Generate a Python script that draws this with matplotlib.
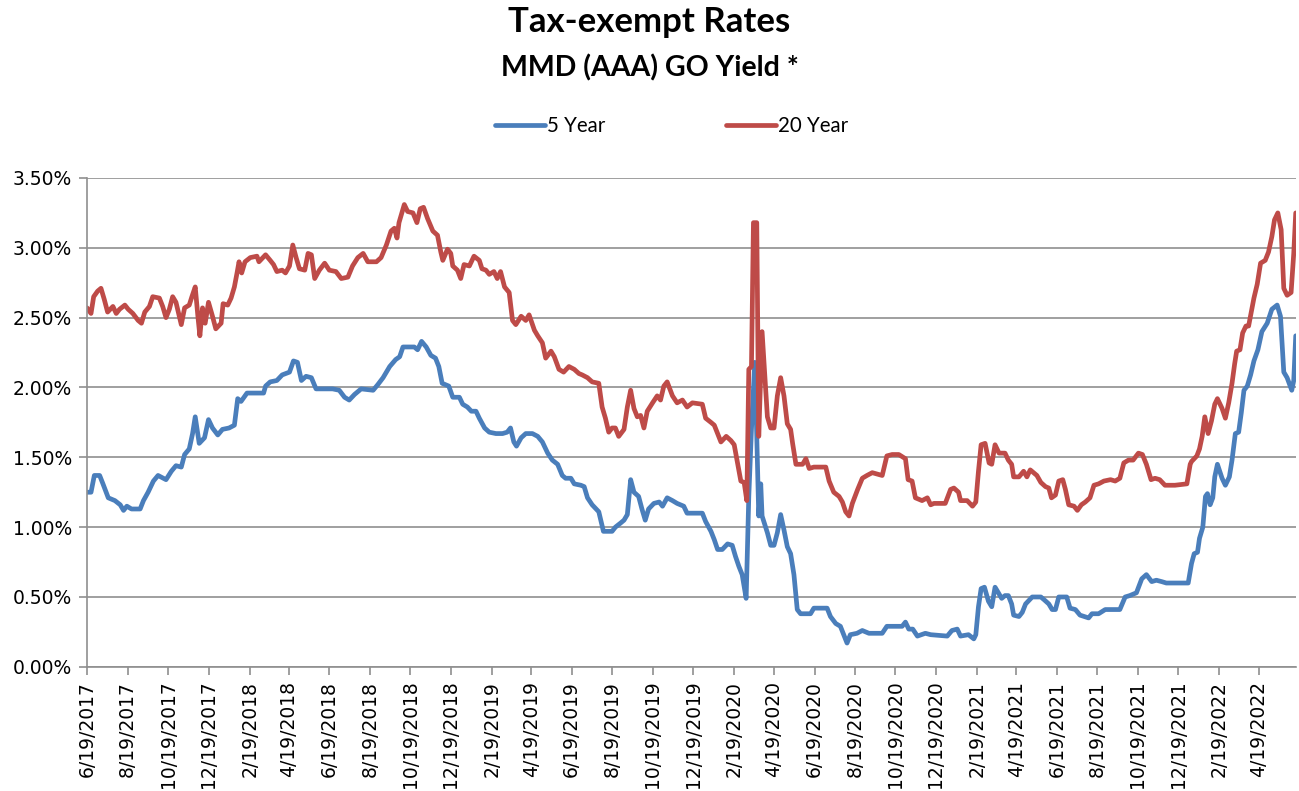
import matplotlib
matplotlib.use("Agg")
import matplotlib.pyplot as plt
import pandas as pd

# 5 year MMD yield (%)
five_dates = [
    "2017-06-19", "2017-06-25", "2017-06-30", "2017-07-08", "2017-07-13", "2017-07-21", "2017-07-31",
    "2017-08-08", "2017-08-13", "2017-08-18", "2017-08-25", "2017-09-07", "2017-09-12", "2017-09-19",
    "2017-09-27", "2017-10-04", "2017-10-16", "2017-10-24", "2017-10-31", "2017-11-08", "2017-11-13",
    "2017-11-20", "2017-11-25", "2017-11-29", "2017-12-05", "2017-12-13", "2017-12-19", "2017-12-25",
    "2018-01-02", "2018-01-09", "2018-01-19", "2018-01-27", "2018-02-01", "2018-02-06", "2018-02-15",
    "2018-03-12", "2018-03-15", "2018-03-22", "2018-04-01", "2018-04-09", "2018-04-20", "2018-04-26",
    "2018-05-02", "2018-05-08", "2018-05-15", "2018-05-23", "2018-05-30", "2018-06-24", "2018-07-04",
    "2018-07-12", "2018-07-19", "2018-07-27", "2018-08-06", "2018-08-24", "2018-08-31", "2018-09-08",
    "2018-09-18", "2018-09-27", "2018-10-03", "2018-10-08", "2018-10-25", "2018-10-30", "2018-11-05",
    "2018-11-12", "2018-11-19", "2018-11-26", "2018-12-01", "2018-12-06", "2018-12-16", "2018-12-22",
    "2019-01-01", "2019-01-06", "2019-01-13", "2019-01-19", "2019-01-26", "2019-01-31", "2019-02-08",
    "2019-02-15", "2019-02-25", "2019-03-07", "2019-03-14", "2019-03-19", "2019-03-24", "2019-03-28",
    "2019-04-04", "2019-04-11", "2019-04-21", "2019-04-29", "2019-05-06", "2019-05-14", "2019-05-21",
    "2019-05-29", "2019-06-05", "2019-06-10", "2019-06-18", "2019-06-23", "2019-07-03", "2019-07-08",
    "2019-07-13", "2019-07-20", "2019-07-30", "2019-08-06", "2019-08-19", "2019-08-24", "2019-09-01",
    "2019-09-06", "2019-09-11", "2019-09-16", "2019-09-21", "2019-09-28", "2019-10-03", "2019-10-08",
    "2019-10-13", "2019-10-21", "2019-10-29", "2019-11-03", "2019-11-10", "2019-11-18", "2019-11-25",
    "2019-12-05", "2019-12-10", "2020-01-02", "2020-01-07", "2020-01-15", "2020-01-20", "2020-01-25",
    "2020-02-01", "2020-02-09", "2020-02-16", "2020-02-21", "2020-02-26", "2020-03-02", "2020-03-08",
    "2020-03-12", "2020-03-16", "2020-03-21", "2020-03-24", "2020-03-27", "2020-03-30", "2020-04-01",
    "2020-04-09", "2020-04-14", "2020-04-19", "2020-04-24", "2020-04-29", "2020-05-04", "2020-05-09",
    "2020-05-14", "2020-05-19", "2020-05-24", "2020-05-29", "2020-06-13", "2020-06-18", "2020-07-08",
    "2020-07-13", "2020-07-21", "2020-07-28", "2020-08-02", "2020-08-07", "2020-08-12", "2020-08-22",
    "2020-08-30", "2020-09-09", "2020-09-29", "2020-10-06", "2020-10-29", "2020-11-03", "2020-11-08",
    "2020-11-14", "2020-11-21", "2020-12-03", "2020-12-11", "2021-01-05", "2021-01-12", "2021-01-20",
    "2021-01-25", "2021-02-06", "2021-02-14", "2021-02-17", "2021-02-21", "2021-02-25", "2021-03-02",
    "2021-03-08", "2021-03-13", "2021-03-18", "2021-03-23", "2021-03-28", "2021-04-02", "2021-04-07",
    "2021-04-12", "2021-04-15", "2021-04-23", "2021-04-28", "2021-05-03", "2021-05-13", "2021-05-26",
    "2021-05-31", "2021-06-07", "2021-06-12", "2021-06-17", "2021-06-22", "2021-07-04", "2021-07-09",
    "2021-07-17", "2021-07-24", "2021-08-06", "2021-08-11", "2021-08-21", "2021-08-31", "2021-09-22",
    "2021-09-30", "2021-10-07", "2021-10-17", "2021-10-25", "2021-11-01", "2021-11-09", "2021-11-16",
    "2021-11-24", "2021-12-01", "2022-01-03", "2022-01-08", "2022-01-12", "2022-01-17", "2022-01-20",
    "2022-01-25", "2022-01-29", "2022-02-01", "2022-02-05", "2022-02-09", "2022-02-12", "2022-02-16",
    "2022-02-23", "2022-02-28", "2022-03-06", "2022-03-10", "2022-03-15", "2022-03-20", "2022-03-24",
    "2022-03-28", "2022-04-02", "2022-04-07", "2022-04-12", "2022-04-18", "2022-04-24", "2022-05-02",
    "2022-05-09", "2022-05-17", "2022-05-22", "2022-05-27", "2022-06-01", "2022-06-08", "2022-06-11",
    "2022-06-14",
]
five_vals = [
    1.25, 1.25, 1.37, 1.37, 1.31, 1.21, 1.19,
    1.16, 1.12, 1.15, 1.13, 1.13, 1.19, 1.25,
    1.33, 1.37, 1.34, 1.40, 1.44, 1.43, 1.52,
    1.56, 1.67, 1.79, 1.60, 1.64, 1.77, 1.71,
    1.66, 1.70, 1.71, 1.73, 1.92, 1.90, 1.96,
    1.96, 2.01, 2.04, 2.05, 2.09, 2.11, 2.19,
    2.18, 2.05, 2.08, 2.07, 1.99, 1.99, 1.98,
    1.93, 1.91, 1.95, 1.99, 1.98, 2.02, 2.07,
    2.15, 2.20, 2.22, 2.29, 2.29, 2.27, 2.33,
    2.29, 2.23, 2.21, 2.15, 2.03, 2.01, 1.93,
    1.93, 1.88, 1.86, 1.83, 1.83, 1.78, 1.71,
    1.68, 1.67, 1.67, 1.68, 1.71, 1.61, 1.58,
    1.64, 1.67, 1.67, 1.65, 1.61, 1.53, 1.48,
    1.45, 1.37, 1.35, 1.35, 1.31, 1.30, 1.29,
    1.21, 1.16, 1.11, 0.97, 0.97, 1.00, 1.03,
    1.05, 1.09, 1.34, 1.25, 1.22, 1.13, 1.05,
    1.13, 1.17, 1.18, 1.15, 1.21, 1.19, 1.17,
    1.15, 1.10, 1.10, 1.04, 0.97, 0.91, 0.84,
    0.84, 0.88, 0.87, 0.79, 0.72, 0.66, 0.49,
    1.22, 1.70, 2.18, 1.65, 1.08, 1.31, 1.08,
    0.96, 0.87, 0.87, 0.96, 1.09, 0.98, 0.86,
    0.81, 0.66, 0.41, 0.38, 0.38, 0.42, 0.42,
    0.36, 0.31, 0.29, 0.23, 0.17, 0.23, 0.24,
    0.26, 0.24, 0.24, 0.29, 0.29, 0.32, 0.27,
    0.27, 0.22, 0.24, 0.23, 0.22, 0.26, 0.27,
    0.22, 0.23, 0.20, 0.23, 0.43, 0.56, 0.57,
    0.47, 0.43, 0.57, 0.53, 0.49, 0.51, 0.51,
    0.45, 0.37, 0.36, 0.39, 0.45, 0.50, 0.50,
    0.48, 0.45, 0.41, 0.41, 0.50, 0.50, 0.42,
    0.41, 0.37, 0.35, 0.38, 0.38, 0.41, 0.41,
    0.50, 0.51, 0.53, 0.63, 0.66, 0.61, 0.62,
    0.61, 0.60, 0.60, 0.74, 0.81, 0.82, 0.92,
    1.00, 1.22, 1.24, 1.16, 1.21, 1.36, 1.45,
    1.35, 1.30, 1.36, 1.48, 1.67, 1.68, 1.82,
    1.98, 2.01, 2.09, 2.19, 2.27, 2.40, 2.46,
    2.56, 2.59, 2.51, 2.11, 2.07, 1.98, 2.05,
    2.37,
]

# 20 year MMD yield (%)
twenty_dates = [
    "2017-06-19", "2017-06-25", "2017-06-29", "2017-07-05", "2017-07-10", "2017-07-15", "2017-07-20",
    "2017-07-28", "2017-08-02", "2017-08-07", "2017-08-15", "2017-08-20", "2017-08-27", "2017-09-04",
    "2017-09-09", "2017-09-14", "2017-09-21", "2017-09-26", "2017-10-06", "2017-10-11", "2017-10-16",
    "2017-10-21", "2017-10-26", "2017-10-31", "2017-11-08", "2017-11-13", "2017-11-20", "2017-11-24",
    "2017-11-29", "2017-12-03", "2017-12-06", "2017-12-10", "2017-12-14", "2017-12-19", "2017-12-25",
    "2017-12-30", "2018-01-07", "2018-01-10", "2018-01-17", "2018-01-22", "2018-01-27", "2018-01-31",
    "2018-02-03", "2018-02-07", "2018-02-12", "2018-02-20", "2018-03-02", "2018-03-05", "2018-03-15",
    "2018-03-22", "2018-03-27", "2018-04-01", "2018-04-09", "2018-04-14", "2018-04-20", "2018-04-25",
    "2018-04-30", "2018-05-05", "2018-05-13", "2018-05-18", "2018-05-23", "2018-05-28", "2018-06-04",
    "2018-06-12", "2018-06-19", "2018-06-29", "2018-07-07", "2018-07-17", "2018-07-24", "2018-08-01",
    "2018-08-09", "2018-08-16", "2018-08-29", "2018-09-05", "2018-09-13", "2018-09-20", "2018-09-25",
    "2018-09-29", "2018-10-02", "2018-10-10", "2018-10-15", "2018-10-23", "2018-10-29", "2018-11-03",
    "2018-11-08", "2018-11-14", "2018-11-22", "2018-11-29", "2018-12-04", "2018-12-07", "2018-12-14",
    "2018-12-19", "2018-12-22", "2018-12-29", "2019-01-03", "2019-01-08", "2019-01-16", "2019-01-23",
    "2019-01-31", "2019-02-04", "2019-02-10", "2019-02-15", "2019-02-22", "2019-02-27", "2019-03-04",
    "2019-03-10", "2019-03-17", "2019-03-22", "2019-03-27", "2019-04-04", "2019-04-11", "2019-04-16",
    "2019-04-24", "2019-04-29", "2019-05-06", "2019-05-11", "2019-05-19", "2019-05-24", "2019-05-31",
    "2019-06-07", "2019-06-15", "2019-06-23", "2019-06-30", "2019-07-05", "2019-07-13", "2019-07-20",
    "2019-07-30", "2019-08-04", "2019-08-09", "2019-08-14", "2019-08-19", "2019-08-24", "2019-08-29",
    "2019-09-06", "2019-09-11", "2019-09-16", "2019-09-21", "2019-09-26", "2019-10-01", "2019-10-06",
    "2019-10-11", "2019-10-19", "2019-10-26", "2019-10-31", "2019-11-05", "2019-11-10", "2019-11-18",
    "2019-11-25", "2019-12-03", "2019-12-10", "2019-12-18", "2020-01-02", "2020-01-07", "2020-01-15",
    "2020-01-20", "2020-01-25", "2020-01-30", "2020-02-07", "2020-02-14", "2020-02-19", "2020-02-24",
    "2020-02-29", "2020-03-05", "2020-03-09", "2020-03-12", "2020-03-16", "2020-03-19", "2020-03-24",
    "2020-03-27", "2020-04-01", "2020-04-09", "2020-04-14", "2020-04-19", "2020-04-24", "2020-04-29",
    "2020-05-04", "2020-05-09", "2020-05-14", "2020-05-17", "2020-05-22", "2020-06-01", "2020-06-06",
    "2020-06-11", "2020-06-18", "2020-07-06", "2020-07-11", "2020-07-18", "2020-07-26", "2020-07-31",
    "2020-08-05", "2020-08-10", "2020-08-15", "2020-08-23", "2020-08-30", "2020-09-06", "2020-09-14",
    "2020-09-29", "2020-10-06", "2020-10-14", "2020-10-24", "2020-11-03", "2020-11-07", "2020-11-13",
    "2020-11-18", "2020-11-28", "2020-12-06", "2020-12-11", "2020-12-16", "2021-01-02", "2021-01-10",
    "2021-01-15", "2021-01-22", "2021-01-25", "2021-02-04", "2021-02-12", "2021-02-17", "2021-02-21",
    "2021-02-25", "2021-03-03", "2021-03-09", "2021-03-13", "2021-03-18", "2021-03-24", "2021-04-02",
    "2021-04-07", "2021-04-12", "2021-04-15", "2021-04-23", "2021-04-30", "2021-05-05", "2021-05-10",
    "2021-05-20", "2021-05-26", "2021-06-02", "2021-06-07", "2021-06-11", "2021-06-17", "2021-06-22",
    "2021-06-28", "2021-07-02", "2021-07-07", "2021-07-15", "2021-07-20", "2021-07-26", "2021-08-01",
    "2021-08-08", "2021-08-14", "2021-08-21", "2021-08-29", "2021-09-08", "2021-09-15", "2021-09-22",
    "2021-09-28", "2021-10-05", "2021-10-12", "2021-10-20", "2021-10-26", "2021-11-01", "2021-11-08",
    "2021-11-14", "2021-11-21", "2021-11-29", "2021-12-14", "2022-01-01", "2022-01-06", "2022-01-08",
    "2022-01-16", "2022-01-20", "2022-01-24", "2022-01-28", "2022-02-02", "2022-02-07", "2022-02-12",
    "2022-02-16", "2022-02-23", "2022-02-28", "2022-03-05", "2022-03-10", "2022-03-14", "2022-03-17",
    "2022-03-22", "2022-03-26", "2022-03-31", "2022-04-04", "2022-04-08", "2022-04-12", "2022-04-17",
    "2022-04-22", "2022-04-29", "2022-05-04", "2022-05-09", "2022-05-13", "2022-05-18", "2022-05-23",
    "2022-05-27", "2022-06-01", "2022-06-07", "2022-06-11", "2022-06-14",
]
twenty_vals = [
    2.57, 2.53, 2.65, 2.69, 2.71, 2.63, 2.54,
    2.58, 2.53, 2.56, 2.59, 2.56, 2.53, 2.48,
    2.46, 2.54, 2.58, 2.65, 2.64, 2.58, 2.50,
    2.56, 2.65, 2.61, 2.45, 2.57, 2.59, 2.65,
    2.72, 2.51, 2.37, 2.57, 2.46, 2.61, 2.51,
    2.42, 2.46, 2.60, 2.59, 2.64, 2.72, 2.82,
    2.90, 2.82, 2.90, 2.93, 2.94, 2.90, 2.95,
    2.91, 2.88, 2.83, 2.84, 2.82, 2.87, 3.02,
    2.93, 2.85, 2.84, 2.96, 2.95, 2.78, 2.84,
    2.89, 2.84, 2.83, 2.78, 2.79, 2.87, 2.93,
    2.96, 2.90, 2.90, 2.93, 3.02, 3.12, 3.14,
    3.07, 3.18, 3.31, 3.26, 3.25, 3.18, 3.28,
    3.29, 3.21, 3.12, 3.09, 2.97, 2.91, 2.99,
    2.96, 2.87, 2.84, 2.78, 2.88, 2.87, 2.94,
    2.91, 2.85, 2.84, 2.81, 2.83, 2.78, 2.83,
    2.72, 2.68, 2.48, 2.45, 2.51, 2.48, 2.52,
    2.41, 2.37, 2.32, 2.21, 2.26, 2.22, 2.13,
    2.11, 2.15, 2.13, 2.10, 2.09, 2.07, 2.04,
    2.03, 1.86, 1.78, 1.68, 1.71, 1.71, 1.65,
    1.70, 1.86, 1.98, 1.85, 1.79, 1.80, 1.71,
    1.83, 1.89, 1.94, 1.91, 2.01, 2.04, 1.94,
    1.89, 1.91, 1.86, 1.89, 1.88, 1.78, 1.75,
    1.73, 1.67, 1.61, 1.65, 1.62, 1.59, 1.46,
    1.33, 1.32, 1.19, 2.13, 2.15, 3.18, 3.18,
    1.65, 2.40, 1.79, 1.71, 1.71, 1.94, 2.07,
    1.94, 1.74, 1.70, 1.60, 1.45, 1.45, 1.49,
    1.42, 1.43, 1.43, 1.33, 1.25, 1.22, 1.18,
    1.11, 1.08, 1.17, 1.27, 1.35, 1.37, 1.39,
    1.37, 1.51, 1.52, 1.52, 1.49, 1.34, 1.33,
    1.21, 1.19, 1.21, 1.16, 1.17, 1.17, 1.27,
    1.28, 1.25, 1.19, 1.19, 1.15, 1.18, 1.40,
    1.59, 1.60, 1.46, 1.45, 1.59, 1.53, 1.53,
    1.48, 1.45, 1.36, 1.36, 1.40, 1.36, 1.41,
    1.37, 1.32, 1.29, 1.28, 1.21, 1.23, 1.33,
    1.34, 1.27, 1.16, 1.15, 1.12, 1.16, 1.18,
    1.21, 1.30, 1.31, 1.33, 1.34, 1.33, 1.35,
    1.46, 1.48, 1.48, 1.53, 1.52, 1.45, 1.34,
    1.35, 1.34, 1.30, 1.30, 1.31, 1.45, 1.47,
    1.51, 1.56, 1.65, 1.79, 1.67, 1.76, 1.88,
    1.92, 1.85, 1.78, 1.89, 2.03, 2.17, 2.26,
    2.27, 2.39, 2.44, 2.44, 2.54, 2.64, 2.74,
    2.89, 2.91, 2.97, 3.08, 3.20, 3.25, 3.13,
    2.71, 2.66, 2.68, 2.96, 3.25,
]

tick_labels = [
    "6/19/2017", "8/19/2017", "10/19/2017", "12/19/2017", "2/19/2018", "4/19/2018",
    "6/19/2018", "8/19/2018", "10/19/2018", "12/19/2018", "2/19/2019", "4/19/2019",
    "6/19/2019", "8/19/2019", "10/19/2019", "12/19/2019", "2/19/2020", "4/19/2020",
    "6/19/2020", "8/19/2020", "10/19/2020", "12/19/2020", "2/19/2021", "4/19/2021",
    "6/19/2021", "8/19/2021", "10/19/2021", "12/19/2021", "2/19/2022", "4/19/2022",
]

blue = "#4A7EBB"
red = "#BE4B48"
grid_col = "#8F8F8F"

fig = plt.figure(figsize=(12.99, 7.91), dpi=100)
ax = fig.add_axes([0.067, 0.157, 0.931, 0.618])

ax.plot(pd.to_datetime(five_dates), five_vals, color=blue, lw=3.4, label="5 Year",
        solid_joinstyle="round", solid_capstyle="round")
ax.plot(pd.to_datetime(twenty_dates), twenty_vals, color=red, lw=3.4, label="20 Year",
        solid_joinstyle="round", solid_capstyle="round")

ax.set_ylim(0, 3.5)
ax.set_yticks([0, 0.5, 1.0, 1.5, 2.0, 2.5, 3.0, 3.5])
ax.set_yticklabels([f"{v:.2f}%" for v in ax.get_yticks()], fontsize=13.5, family="DejaVu Sans")
ax.yaxis.grid(True, color=grid_col, lw=1.2)
ax.set_axisbelow(True)

ticks = pd.to_datetime(tick_labels, format="%m/%d/%Y")
ax.set_xticks(ticks)
ax.set_xticklabels(tick_labels, rotation=90, fontsize=13.5, family="DejaVu Sans")
ax.set_xlim(pd.Timestamp("2017-06-19"), pd.Timestamp("2022-06-15"))

for s in ["top", "right"]:
    ax.spines[s].set_visible(False)
for s in ["left", "bottom"]:
    ax.spines[s].set_color(grid_col)
    ax.spines[s].set_linewidth(1.2)
ax.tick_params(axis="both", colors=grid_col, length=6, width=1.2, labelcolor="black")
ax.tick_params(axis="x", pad=4)
ax.tick_params(axis="y", pad=5)

fig.text(0.5, 0.972, "Tax-exempt Rates", ha="center", va="center",
         fontsize=25, fontweight="bold", family="Lato")
fig.text(0.5, 0.914, "MMD (AAA) GO Yield *", ha="center", va="center",
         fontsize=20.5, fontweight="bold", family="Lato")

fig.legend(loc="center", bbox_to_anchor=(0.517, 0.841), ncol=2, frameon=False,
           prop={"family": "Lato", "size": 14.8}, handlelength=2.4, handletextpad=0.1,
           columnspacing=5.9)

fig.savefig("out.png", dpi=100)
